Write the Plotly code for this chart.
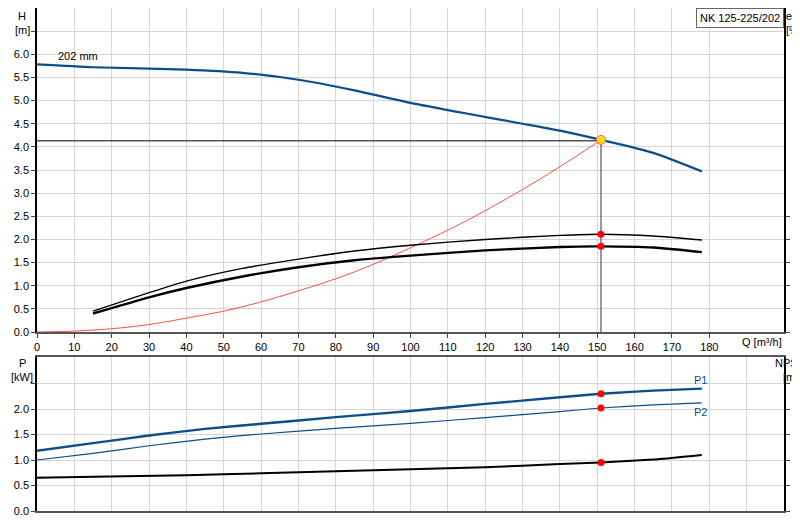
import plotly.graph_objects as go

q_h = [0, 15, 40, 55, 70, 85, 100, 115, 130, 140, 151, 165, 178]
h = [5.78, 5.72, 5.67, 5.6, 5.45, 5.22, 4.95, 4.72, 4.5, 4.35, 4.15, 3.87, 3.47]
q_sys = [0, 10, 20, 30, 40, 50, 60, 70, 80, 90, 100, 110, 120, 130, 140, 151]
h_sys = [0, 0.02, 0.07, 0.16, 0.3, 0.45, 0.65, 0.89, 1.15, 1.46, 1.82, 2.2, 2.62, 3.08, 3.57, 4.15]
q_eta = [15, 30, 40, 55, 70, 85, 100, 120, 140, 151, 165, 178]
eta_a = [18, 34, 44, 55, 63, 70, 75, 80, 83.5, 84.5, 83, 79.5]
eta_b = [16, 30, 38, 48, 56, 62, 66, 70.5, 73.5, 74, 73, 69]
q_p = [0, 15, 30, 45, 60, 80, 100, 120, 140, 151, 165, 178]
p1 = [1.18, 1.33, 1.48, 1.61, 1.71, 1.84, 1.96, 2.1, 2.23, 2.3, 2.36, 2.4]
p2 = [1.0, 1.13, 1.28, 1.41, 1.51, 1.62, 1.72, 1.83, 1.95, 2.02, 2.08, 2.12]
q_n = [0, 15, 40, 60, 80, 100, 120, 140, 151, 165, 178]
npsh = [0.65, 0.67, 0.7, 0.74, 0.78, 0.82, 0.86, 0.92, 0.95, 1.01, 1.1]
duty_q, duty_h = 151, 4.15
duty_eta = [84.5, 74]
duty_p = [2.3, 2.02]
duty_npsh = 0.95

BLUE = "#0b4f8a"
fig = go.Figure()
fig.add_trace(go.Scatter(x=q_h, y=h, mode="lines", line=dict(color=BLUE, width=2.2, shape="spline", smoothing=0.6), xaxis="x", yaxis="y"))
fig.add_trace(go.Scatter(x=q_sys, y=h_sys, mode="lines", line=dict(color="#ff2020", width=0.8, shape="spline"), xaxis="x", yaxis="y"))
fig.add_trace(go.Scatter(x=[0, duty_q], y=[4.13, 4.13], mode="lines", line=dict(color="black", width=1), xaxis="x", yaxis="y"))
fig.add_trace(go.Scatter(x=[duty_q, duty_q], y=[0, duty_h], mode="lines", line=dict(color="#555", width=1.2), xaxis="x", yaxis="y"))
fig.add_trace(go.Scatter(x=q_eta, y=eta_a, mode="lines", line=dict(color="black", width=1.4, shape="spline", smoothing=0.6), xaxis="x", yaxis="y2"))
fig.add_trace(go.Scatter(x=q_eta, y=eta_b, mode="lines", line=dict(color="black", width=2.4, shape="spline", smoothing=0.6), xaxis="x", yaxis="y2"))
fig.add_trace(go.Scatter(x=[duty_q, duty_q], y=duty_eta, mode="markers", marker=dict(color="red", size=7), xaxis="x", yaxis="y2"))
fig.add_trace(go.Scatter(x=[duty_q], y=[duty_h], mode="markers", marker=dict(color="#ffe000", size=9, line=dict(color="#ff6060", width=1)), xaxis="x", yaxis="y"))
fig.add_trace(go.Scatter(x=q_p, y=p1, mode="lines", line=dict(color=BLUE, width=2.4, shape="spline", smoothing=0.5), xaxis="x2", yaxis="y3"))
fig.add_trace(go.Scatter(x=q_p, y=p2, mode="lines", line=dict(color=BLUE, width=1.2, shape="spline", smoothing=0.5), xaxis="x2", yaxis="y3"))
fig.add_trace(go.Scatter(x=q_n, y=npsh, mode="lines", line=dict(color="black", width=2, shape="spline", smoothing=0.5), xaxis="x2", yaxis="y4"))
fig.add_trace(go.Scatter(x=[duty_q, duty_q], y=duty_p, mode="markers", marker=dict(color="red", size=7), xaxis="x2", yaxis="y3"))
fig.add_trace(go.Scatter(x=[duty_q], y=[duty_npsh], mode="markers", marker=dict(color="red", size=7), xaxis="x2", yaxis="y4"))

GRID = "#d6d6d6"
f = dict(family="Liberation Sans, Arial", size=11, color="black")
PH = 503
fig.update_layout(
    width=800, height=520, margin=dict(l=29, r=24, t=0, b=17, autoexpand=False), showlegend=False,
    plot_bgcolor="white", paper_bgcolor="white", font=f,
    xaxis=dict(domain=[0, 1], range=[0, 200], tickvals=list(range(0, 190, 10)), ticks="outside", ticklen=4,
               gridcolor=GRID, showline=True, linecolor="#555", linewidth=2, anchor="y", zeroline=False, automargin=False),
    yaxis=dict(domain=[1-324/PH, 1], range=[0, 7], tickvals=[i*0.5 for i in range(14)],
               ticktext=[f"{i*0.5:.1f}" for i in range(13)] + [""], ticks="outside", ticklen=4,
               gridcolor=GRID, showline=True, linecolor="black", linewidth=1.5, zeroline=False, anchor="x", automargin=False),
    yaxis2=dict(overlaying="y", side="right", range=[0, 280], tickvals=[0, 20, 40, 60, 80, 100],
                ticks="outside", ticklen=4, showgrid=False, showline=True, linecolor="black", linewidth=1.5,
                zeroline=False, anchor="x", automargin=False),
    xaxis2=dict(domain=[0, 1], range=[0, 200], tickvals=list(range(0, 200, 10)), showticklabels=False,
                gridcolor=GRID, showline=True, linecolor="#555", linewidth=1.5, mirror=True, anchor="y3", zeroline=False, automargin=False),
    yaxis3=dict(domain=[0, 1-349/PH], range=[0, 3.02], tickvals=[0, 0.5, 1, 1.5, 2, 2.5],
                ticktext=["0.0", "0.5", "1.0", "1.5", "2.0", ""], ticks="outside", ticklen=4,
                gridcolor=GRID, showline=True, linecolor="black", linewidth=1.5, zeroline=False, anchor="x2", automargin=False),
    yaxis4=dict(overlaying="y3", side="right", range=[0, 3.02], tickvals=[0, 0.5, 1, 1.5, 2, 2.5],
                ticktext=["0.0", "0.5", "1.0", "1.5", "2.0", ""], ticks="outside", ticklen=4,
                showgrid=False, showline=True, linecolor="black", linewidth=1.5, zeroline=False, anchor="x2", automargin=False),
)
ann = [
    (14, 0, "H"), (14, 14, "[m]"), (786, 0, "eta"), (786, 14, "[%]"),
    (14, 347, "P"), (14, 361, "[kW]"), (782, 347, "NPSH"), (782, 361, "[m]"),
]
for x, y, t in ann:
    fig.add_annotation(xref="paper", yref="paper", x=(x-29)/747, y=1-y/PH, text=t, xanchor="center",
                       yanchor="top", showarrow=False, font=f)
fig.add_annotation(xref="paper", yref="paper", x=(732-29)/747, y=1-334/PH, text="Q [m³/h]", xanchor="left",
                   yanchor="middle", showarrow=False, font=f)
fig.add_annotation(xref="x", yref="y", x=5, y=5.8, text="202 mm", xanchor="left", yanchor="bottom", showarrow=False, font=f)
fig.add_annotation(xref="x2", yref="y3", x=180, y=2.42, text="P1", xanchor="right", yanchor="bottom", showarrow=False, font=dict(family=f["family"], size=11, color=BLUE))
fig.add_annotation(xref="x2", yref="y3", x=180, y=2.1, text="P2", xanchor="right", yanchor="top", showarrow=False, font=dict(family=f["family"], size=11, color=BLUE))
fig.add_annotation(xref="paper", yref="paper", x=1, y=1, text="NK 125-225/202", xanchor="right", yanchor="top",
                   showarrow=False, font=f, bgcolor="white", bordercolor="#666", borderwidth=1, borderpad=3)
fig.write_html("out.html")
